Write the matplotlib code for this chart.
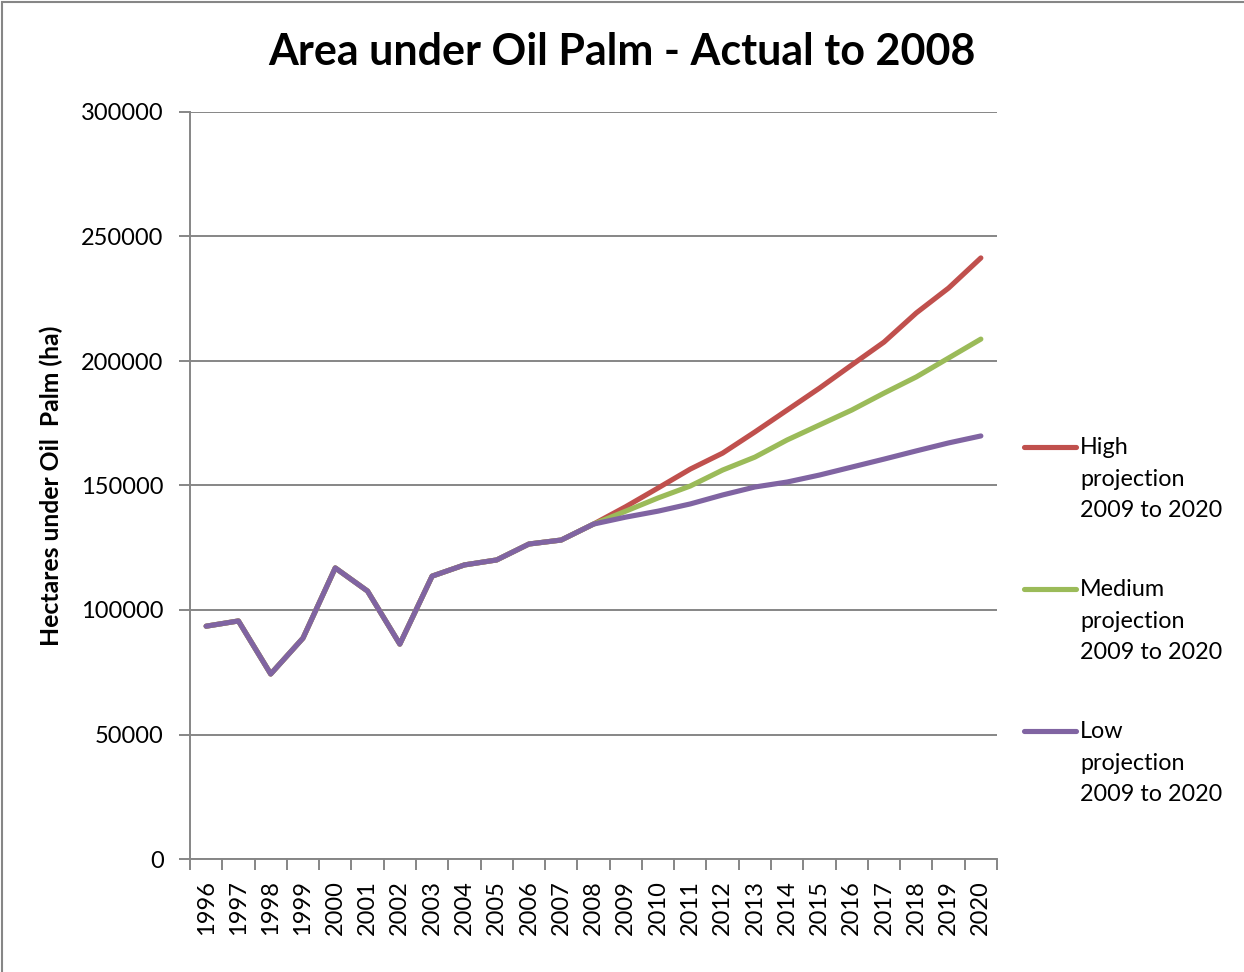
import matplotlib
matplotlib.use("Agg")
import matplotlib.pyplot as plt
from matplotlib.lines import Line2D
from matplotlib.patches import Rectangle
from matplotlib.ticker import MultipleLocator, FixedLocator

plt.rcParams['font.family'] = ['Lato', 'DejaVu Sans']

# Area under oil palm (ha): actual to 2008, three projections after
years = list(range(1996, 2021))
actual = [93500, 95600, 74300, 88700, 116900, 107600, 86300, 113600,
          118100, 120100, 126500, 128100, 134500]
high_proj = [141500, 149000, 156600, 163000, 171500, 180300, 189100,
             198400, 207600, 219300, 229300, 241400]
medium_proj = [139700, 145000, 149800, 156200, 161400, 168300, 174300,
               180300, 187100, 193600, 201200, 208800]
low_proj = [137300, 139700, 142600, 146200, 149400, 151400, 154200,
            157400, 160600, 163900, 167100, 169900]

series = [
    ("High\nprojection\n2009 to 2020", actual + high_proj, "#C0504D"),
    ("Medium\nprojection\n2009 to 2020", actual + medium_proj, "#9BBB59"),
    ("Low\nprojection\n2009 to 2020", actual + low_proj, "#8064A2"),
]

grey = "#868686"

fig = plt.figure(figsize=(12.44, 9.72), dpi=100)
ax = fig.add_axes([190 / 1244, 113 / 972, 807 / 1244, 747 / 972])

x = list(range(len(years)))
for label, values, color in series:
    ax.plot(x, values, color=color, lw=3.7, solid_capstyle="round",
            solid_joinstyle="round")

ax.set_xlim(-0.5, len(years) - 0.5)
ax.set_ylim(0, 300000)
ax.yaxis.set_major_locator(MultipleLocator(50000))
ax.grid(axis="y", color=grey, lw=1.4)
ax.set_axisbelow(True)

ax.set_xticks(x)
ax.set_xticklabels([str(y) for y in years], rotation=90, fontsize=17)
ax.xaxis.set_minor_locator(FixedLocator([i - 0.5 for i in range(len(years) + 1)]))
ax.tick_params(axis="x", which="major", length=0, pad=15)
ax.tick_params(axis="x", which="minor", length=8, width=1.4, color=grey)
ax.tick_params(axis="y", length=8, width=1.4, color=grey, labelsize=17, pad=11)

for side in ("top", "right"):
    ax.spines[side].set_visible(False)
for side in ("left", "bottom"):
    ax.spines[side].set_color(grey)
    ax.spines[side].set_linewidth(1.4)

ax.set_ylabel("Hectares under Oil  Palm (ha)", fontsize=17.8, fontweight="bold")
ax.yaxis.set_label_coords(-0.157, 0.5)

fig.text(0.5, 1 - 52 / 972, "Area under Oil Palm - Actual to 2008",
         ha="center", va="center", fontsize=31, fontweight="bold")

# legend drawn beside the plot, handle level with the first text line
for i, (label, values, color) in enumerate(series):
    yc = 447 + 142 * i
    fig.add_artist(Line2D([1024 / 1244, 1076 / 1244], [1 - yc / 972, 1 - yc / 972],
                          color=color, lw=3.7, solid_capstyle="round"))
    fig.text(1080 / 1244, 1 - (yc - 10) / 972, label, ha="left", va="top",
             fontsize=16.8, linespacing=1.63)

fig.add_artist(Rectangle((2 / 1244, -0.05), 1.1, 1 - 2 / 972 + 0.05,
                         transform=fig.transFigure, fill=False,
                         edgecolor=grey, lw=1.5))

fig.savefig("out.png", dpi=100)
